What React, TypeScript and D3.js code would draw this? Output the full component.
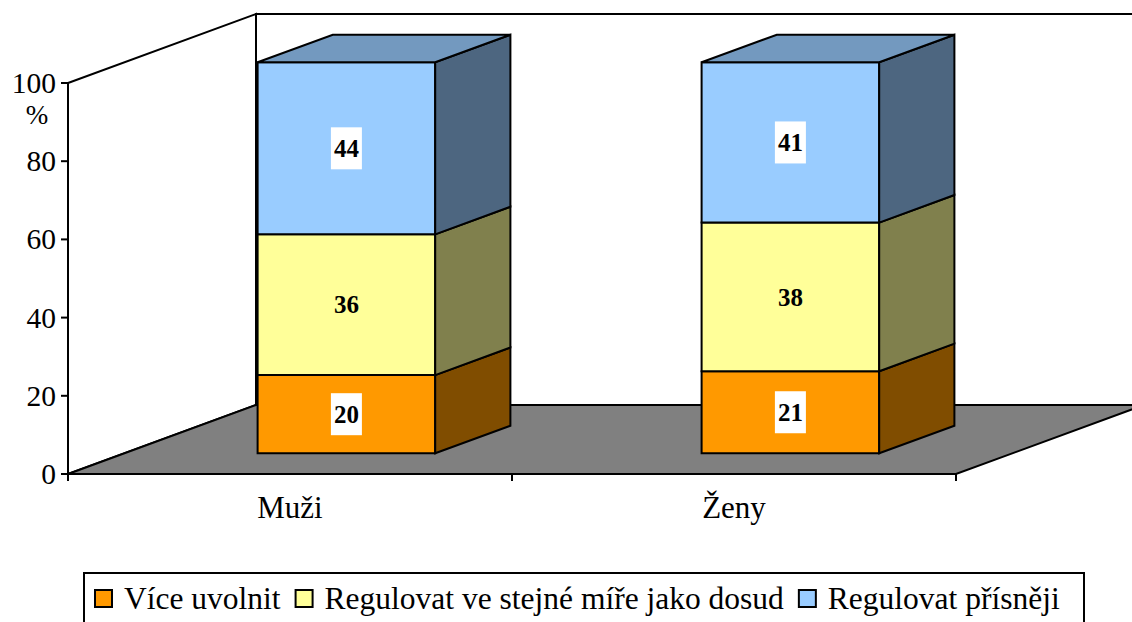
import React from "react";
import * as d3 from "d3";

const categories = ["Muži", "Ženy"];
const seriesNames = ["Více uvolnit", "Regulovat ve stejné míře jako dosud", "Regulovat přísněji"];
const viceUvolnit = [20, 21];
const stejneMire = [36, 38];
const prisneji = [44, 41];
const yTicks = [0, 20, 40, 60, 80, 100];

const frontColors = ["#FF9900", "#FFFF99", "#99CCFF"];
const labelBoxed = [true, false, true];

const W = 1132;
const H = 622;
const plotLeft = 68;
const plotRight = 956;
const yBottom = 474;
const yTop = 83;
const depthX = 188;
const depthY = 69;
const barFront = 0.3;
const barBack = 0.7;
const serif = "Liberation Serif, DejaVu Serif, serif";

function shade(c: string, k: number) {
  const col = d3.rgb(c);
  return d3.rgb(col.r * k, col.g * k, col.b * k).formatHex();
}

function measure(text: string, font: string) {
  const cv = document.createElement("canvas");
  const ctx = cv.getContext("2d");
  if (!ctx) return text.length * 14;
  ctx.font = font;
  return ctx.measureText(text).width;
}

export default function App() {
  const rows = categories.map((c, i) => ({ cat: c, s0: viceUvolnit[i], s1: stejneMire[i], s2: prisneji[i] }));
  const keys = ["s0", "s1", "s2"];
  const stacked = d3.stack<any>().keys(keys)(rows);

  const x = d3.scaleBand<string>().domain(categories).range([plotLeft, plotRight]).paddingInner(0.6).paddingOuter(0.3);
  const y = d3.scaleLinear().domain([0, 100]).range([yBottom, yTop]);

  const P = (px: number, v: number, d: number) => [px + d * depthX, y(v) - d * depthY];
  const pts = (arr: number[][]) => arr.map((p) => p.join(",")).join(" ");

  const strokeProps = { stroke: "#000", strokeWidth: 2, strokeLinejoin: "miter" as const };

  const leftWall = pts([P(plotLeft, 0, 0), P(plotLeft, 100, 0), P(plotLeft, 100, 1), P(plotLeft, 0, 1)]);
  const backWall = pts([P(plotLeft, 0, 1), P(plotLeft, 100, 1), P(plotRight, 100, 1), P(plotRight, 0, 1)]);
  const floor = pts([P(plotLeft, 0, 0), P(plotRight, 0, 0), P(plotRight, 0, 1), P(plotLeft, 0, 1)]);

  const bars: React.ReactNode[] = [];
  const labels: React.ReactNode[] = [];
  categories.forEach((cat, ci) => {
    const xl = x(cat) as number;
    const xr = xl + x.bandwidth();
    stacked.forEach((layer, si) => {
      const [v0, v1] = layer[ci];
      const fc = frontColors[si];
      const front = pts([P(xl, v0, barFront), P(xr, v0, barFront), P(xr, v1, barFront), P(xl, v1, barFront)]);
      const side = pts([P(xr, v0, barFront), P(xr, v0, barBack), P(xr, v1, barBack), P(xr, v1, barFront)]);
      const top = pts([P(xl, v1, barFront), P(xr, v1, barFront), P(xr, v1, barBack), P(xl, v1, barBack)]);
      bars.push(
        <g key={`b${ci}-${si}`}>
          <polygon points={front} fill={fc} {...strokeProps} />
          <polygon points={side} fill={shade(fc, 0.5)} {...strokeProps} />
          {si === stacked.length - 1 && <polygon points={top} fill={shade(fc, 0.75)} {...strokeProps} />}
        </g>
      );
      const cx = (xl + xr) / 2 + barFront * depthX;
      const cy = (y(v0) + y(v1)) / 2 - barFront * depthY;
      const val = v1 - v0;
      labels.push(
        <g key={`l${ci}-${si}`}>
          {labelBoxed[si] && <rect x={cx - 15.5} y={cy - 21} width={31} height={42} fill="#fff" />}
          <text x={cx} y={cy} dy="0.35em" textAnchor="middle" fontFamily={serif} fontWeight="bold" fontSize={25} fill="#000">
            {val}
          </text>
        </g>
      );
    });
  });

  const catTicks = d3.range(categories.length + 1).map((i) => plotLeft + i * x.step());

  // legend layout
  const legendFont = 31.5;
  const legendFontStr = `${legendFont}px "Liberation Serif", "DejaVu Serif", serif`;
  let lx = 95;
  const legendItems = seriesNames.map((name, i) => {
    const w = measure(name, legendFontStr);
    const item = { name, sx: lx, tx: lx + 29, color: frontColors[i] };
    lx = lx + 29 + w + 15;
    return item;
  });

  return (
    <svg width={W} height={H} style={{ position: "absolute", left: 0, top: 0, background: "#fff" }}>
      <polygon points={leftWall} fill="#fff" {...strokeProps} />
      <polygon points={backWall} fill="#fff" {...strokeProps} />
      <polygon points={floor} fill="#808080" {...strokeProps} />
      {/* y axis */}
      <line x1={plotLeft} y1={y(100)} x2={plotLeft} y2={y(0)} {...strokeProps} />
      {yTicks.map((t) => (
        <g key={`yt${t}`}>
          <line x1={plotLeft - 7} x2={plotLeft} y1={y(t)} y2={y(t)} {...strokeProps} />
          <text x={plotLeft - 12} y={y(t)} dy="0.34em" textAnchor="end" fontFamily={serif} fontSize={29.5} fill="#000">
            {t}
          </text>
        </g>
      ))}
      <text x={37} y={124} textAnchor="middle" fontFamily={serif} fontSize={27} fill="#000">%</text>
      {/* category axis */}
      <line x1={plotLeft} x2={plotRight} y1={y(0)} y2={y(0)} {...strokeProps} />
      {catTicks.map((tx, i) => (
        <line key={`ct${i}`} x1={tx} x2={tx} y1={y(0)} y2={y(0) + 7} {...strokeProps} />
      ))}
      {categories.map((c) => (
        <text key={`cl${c}`} x={(x(c) as number) + x.bandwidth() / 2} y={518} textAnchor="middle" fontFamily={serif} fontSize={31} fill="#000">
          {c}
        </text>
      ))}
      {bars}
      {labels}
      {/* legend */}
      <rect x={84} y={573} width={1000} height={80} fill="#fff" stroke="#000" strokeWidth={2} />
      {legendItems.map((it) => (
        <g key={`lg${it.name}`}>
          <rect x={it.sx} y={590} width={17} height={17} fill={it.color} stroke="#000" strokeWidth={2} />
          <text x={it.tx} y={609} fontFamily={serif} fontSize={legendFont} fill="#000">
            {it.name}
          </text>
        </g>
      ))}
    </svg>
  );
}
